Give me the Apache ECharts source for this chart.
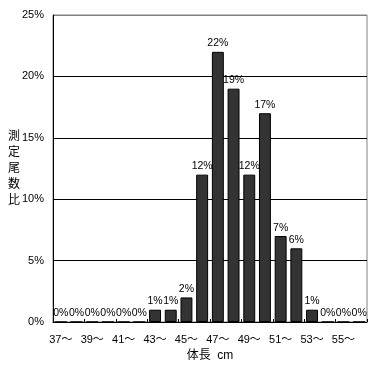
<!DOCTYPE html>
<html><head><meta charset="utf-8">
<script src="https://cdn.jsdelivr.net/npm/echarts@6/dist/echarts.min.js"></script>
<style>html,body{margin:0;padding:0;background:#fff}#c{width:382px;height:367px}</style>
</head><body><div id="c"></div>
<script>
const categories = ['37〜','38〜','39〜','40〜','41〜','42〜','43〜','44〜','45〜','46〜','47〜','48〜','49〜','50〜','51〜','52〜','53〜','54〜','55〜','56〜'];
const values = [0,0,0,0,0,0,1,1,2,12,22,19,12,17,7,6,1,0,0,0];
const yTicks = [0,5,10,15,20,25];
const font = '"Liberation Sans", "Noto Sans CJK JP", sans-serif';
const chart = echarts.init(document.getElementById('c'));
chart.setOption({
  animation: false,
  grid: {left: 53, top: 15, right: 15, bottom: 44, show: true, borderColor: '#808080', borderWidth: 1},
  xAxis: {
    type: 'category', data: categories,
    name: '体長  cm', nameLocation: 'middle', nameGap: 28,
    nameTextStyle: {color: '#000', fontSize: 12, fontFamily: font},
    axisLine: {lineStyle: {color: '#000', width: 1}},
    axisTick: {show: true, inside: true, length: 3, lineStyle: {color: '#000'}},
    axisLabel: {interval: 1, color: '#000', fontSize: 11, fontFamily: font, margin: 12}
  },
  yAxis: {
    type: 'value', min: yTicks[0], max: yTicks[yTicks.length-1], interval: 5,
    name: '測\n定\n尾\n数\n比', nameLocation: 'middle', nameRotate: 0, nameGap: 39, nameMoveOverlap: false,
    nameTextStyle: {color: '#000', fontSize: 12, fontFamily: font, lineHeight: 16, align: 'center'},
    axisLine: {show: true, lineStyle: {color: '#000'}},
    axisTick: {show: false},
    splitLine: {lineStyle: {color: ['#000','#000','#000','#000','#000','#808080'], width: 1}},
    axisLabel: {formatter: v => v + '%', color: '#000', fontSize: 11, fontFamily: font, margin: 9}
  },
  series: [{
    type: 'bar', data: values, barCategoryGap: '24%',
    itemStyle: {color: '#333333', borderColor: '#000', borderWidth: 1},
    label: {show: true, position: 'top', formatter: p => p.value + '%', color: '#000', fontSize: 10.5, fontFamily: font, distance: 3}
  }]
});
</script></body></html>
